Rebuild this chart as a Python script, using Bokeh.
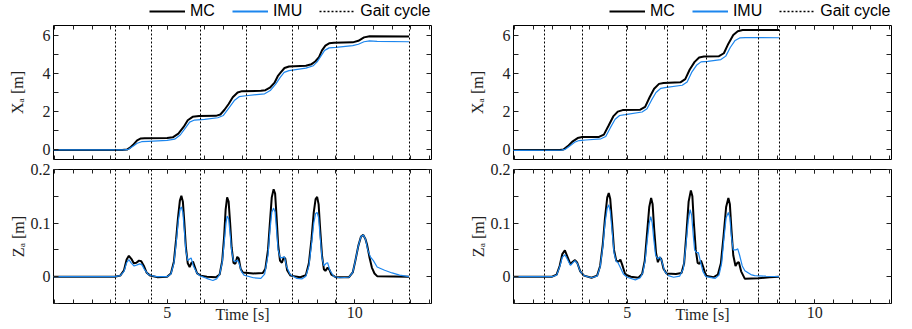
import numpy as np
from bokeh.plotting import figure
from bokeh.layouts import column, row
from bokeh.models import (Range1d, LinearAxis, FixedTicker, Legend, LegendItem,
                          CustomJSTickFormatter)
from bokeh.embed import file_html
from bokeh.resources import INLINE

# ---------------- data ----------------
X_START, X_END = 1.97, 12.05
X_TICKS = [5, 10]
X_MINOR = [2.0 + 0.5 * i for i in range(21)]

XA_RANGE = (-0.5, 6.5)
XA_TICKS = [0, 2, 4, 6]
XA_MINOR = [1, 3, 5]
XA_LABELS = ["0", "2", "4", "6"]

ZA_RANGE = (-0.05, 0.2)
ZA_TICKS = [0, 0.1, 0.2]
ZA_MINOR = [-0.05, 0.05, 0.15]
ZA_LABELS = ["0", "0.1", "0.2"]

SERIES_NAMES = ["MC", "IMU", "Gait cycle"]

GAIT_LEFT = [3.63, 4.57, 5.89, 7.11, 8.33, 9.51, 11.45]
GAIT_RIGHT = [2.79, 3.82, 4.99, 6.08, 7.11, 8.51, 9.05]

# top-left, X_a [m]
TL_MC = [(1.9, 0.0), (3.8, 0.0), (3.93, 0.02), (4.03, 0.15), (4.11, 0.3), (4.2, 0.5),
         (4.3, 0.6), (4.4, 0.61), (5.0, 0.62), (5.15, 0.66), (5.3, 0.85), (5.44, 1.2),
         (5.55, 1.55), (5.68, 1.73), (5.85, 1.77), (6.3, 1.78), (6.42, 1.85), (6.53, 2.1),
         (6.64, 2.4), (6.75, 2.75), (6.88, 3.0), (7.0, 3.07), (7.5, 3.09), (7.62, 3.12),
         (7.74, 3.25), (7.86, 3.5), (7.95, 3.85), (8.03, 4.05), (8.13, 4.28), (8.25, 4.36),
         (8.7, 4.4), (8.85, 4.48), (8.95, 4.62), (9.05, 4.85), (9.13, 5.2), (9.22, 5.45),
         (9.32, 5.57), (9.45, 5.6), (9.95, 5.62), (10.1, 5.7), (10.25, 5.88), (10.4, 5.94),
         (11.45, 5.93)]
TL_IMU = [(1.9, 0.0), (3.85, 0.0), (3.97, 0.03), (4.1, 0.2), (4.2, 0.35), (4.32, 0.43),
          (4.5, 0.45), (5.0, 0.5), (5.2, 0.56), (5.35, 0.78), (5.49, 1.15), (5.6, 1.45),
          (5.73, 1.56), (6.0, 1.6), (6.35, 1.68), (6.5, 1.8), (6.65, 2.2), (6.8, 2.6),
          (6.92, 2.78), (7.1, 2.83), (7.6, 2.93), (7.75, 3.1), (7.9, 3.45), (8.02, 3.8),
          (8.12, 4.05), (8.25, 4.14), (8.7, 4.27), (8.9, 4.4), (9.0, 4.6), (9.1, 4.9),
          (9.2, 5.2), (9.32, 5.33), (9.5, 5.36), (9.95, 5.45), (10.1, 5.52), (10.25, 5.65),
          (10.4, 5.7), (10.6, 5.67), (11.45, 5.65)]

# top-right, X_a [m]
TR_MC = [(1.9, 0.0), (3.2, 0.0), (3.3, 0.02), (3.42, 0.2), (3.55, 0.45), (3.68, 0.62),
         (3.8, 0.67), (4.25, 0.68), (4.38, 0.8), (4.5, 1.25), (4.63, 1.75), (4.75, 2.0),
         (4.88, 2.08), (5.35, 2.1), (5.48, 2.25), (5.6, 2.75), (5.72, 3.2), (5.85, 3.45),
         (5.97, 3.5), (6.42, 3.53), (6.55, 3.7), (6.67, 4.2), (6.8, 4.6), (6.92, 4.83),
         (7.05, 4.88), (7.45, 4.9), (7.58, 5.05), (7.7, 5.55), (7.83, 6.0), (7.95, 6.2),
         (8.08, 6.26), (9.05, 6.27)]
TR_IMU = [(1.9, -0.02), (3.25, -0.01), (3.35, 0.03), (3.47, 0.2), (3.6, 0.4), (3.72, 0.49),
          (3.9, 0.52), (4.3, 0.58), (4.43, 0.7), (4.55, 1.15), (4.68, 1.6), (4.8, 1.8),
          (4.95, 1.84), (5.4, 1.98), (5.53, 2.15), (5.65, 2.6), (5.77, 3.0), (5.9, 3.22),
          (6.05, 3.27), (6.47, 3.38), (6.6, 3.55), (6.72, 4.05), (6.85, 4.42), (6.97, 4.6),
          (7.15, 4.63), (7.5, 4.72), (7.63, 4.9), (7.75, 5.35), (7.88, 5.72), (8.0, 5.85),
          (8.15, 5.87), (9.05, 5.86)]

# bottom-left, Z_a [m]
BL_MC = [(1.9, 0.0), (3.6, 0.0), (3.75, 0.002), (3.85, 0.012), (3.92, 0.032), (3.98, 0.039),
         (4.05, 0.033), (4.11, 0.025), (4.18, 0.026), (4.25, 0.03), (4.31, 0.029),
         (4.38, 0.02), (4.45, 0.008), (4.55, 0.002), (4.75, -0.001), (5.0, 0.0),
         (5.1, 0.006), (5.18, 0.028), (5.24, 0.07), (5.29, 0.11), (5.34, 0.142),
         (5.38, 0.151), (5.42, 0.14), (5.46, 0.1), (5.5, 0.055), (5.55, 0.025), (5.6, 0.018),
         (5.65, 0.026), (5.69, 0.028), (5.73, 0.02), (5.8, 0.006), (5.9, 0.002), (6.06, 0.0),
         (6.3, -0.001), (6.4, 0.004), (6.47, 0.03), (6.52, 0.075), (6.56, 0.125), (6.6, 0.148),
         (6.64, 0.14), (6.68, 0.1), (6.72, 0.055), (6.77, 0.026), (6.82, 0.024), (6.87, 0.037),
         (6.91, 0.034), (6.96, 0.015), (7.02, 0.008), (7.3, 0.006), (7.55, 0.007),
         (7.62, 0.015), (7.69, 0.05), (7.74, 0.1), (7.79, 0.148), (7.84, 0.163), (7.88, 0.155),
         (7.92, 0.11), (7.96, 0.06), (8.01, 0.03), (8.06, 0.026), (8.11, 0.036), (8.15, 0.034),
         (8.2, 0.012), (8.29, 0.002), (8.55, -0.001), (8.7, 0.003), (8.78, 0.025),
         (8.85, 0.07), (8.91, 0.12), (8.96, 0.145), (9.0, 0.149), (9.04, 0.135), (9.08, 0.09),
         (9.13, 0.04), (9.18, 0.014), (9.22, 0.011), (9.28, 0.017), (9.32, 0.014),
         (9.38, 0.004), (9.5, -0.001), (9.85, -0.001), (9.95, 0.008), (10.02, 0.03),
         (10.1, 0.058), (10.17, 0.075), (10.23, 0.078), (10.29, 0.07), (10.33, 0.06),
         (10.4, 0.035), (10.46, 0.017), (10.53, 0.006), (10.6, 0.001), (11.45, 0.0)]
BL_IMU = [(1.9, 0.0), (3.6, 0.0), (3.75, 0.002), (3.85, 0.01), (3.92, 0.026), (3.98, 0.032),
          (4.05, 0.025), (4.12, 0.02), (4.2, 0.022), (4.27, 0.024), (4.33, 0.022),
          (4.4, 0.013), (4.5, 0.004), (4.7, 0.0), (5.0, 0.0), (5.1, 0.005), (5.18, 0.025),
          (5.24, 0.062), (5.3, 0.105), (5.35, 0.127), (5.38, 0.13), (5.42, 0.12),
          (5.46, 0.085), (5.5, 0.048), (5.55, 0.03), (5.6, 0.033), (5.64, 0.035), (5.7, 0.02),
          (5.8, 0.006), (5.9, 0.001), (6.05, -0.003), (6.22, -0.007), (6.32, -0.004),
          (6.4, 0.004), (6.47, 0.027), (6.53, 0.07), (6.57, 0.1), (6.6, 0.113), (6.64, 0.108),
          (6.68, 0.08), (6.72, 0.048), (6.77, 0.03), (6.82, 0.028), (6.87, 0.031),
          (6.92, 0.025), (6.98, 0.01), (7.05, 0.003), (7.3, -0.002), (7.5, -0.003),
          (7.6, 0.005), (7.69, 0.04), (7.74, 0.085), (7.79, 0.12), (7.84, 0.128), (7.88, 0.12),
          (7.92, 0.085), (7.96, 0.05), (8.02, 0.035), (8.08, 0.036), (8.13, 0.037),
          (8.18, 0.02), (8.28, 0.004), (8.45, -0.003), (8.6, -0.004), (8.7, 0.001),
          (8.78, 0.02), (8.85, 0.06), (8.91, 0.1), (8.96, 0.118), (9.0, 0.12), (9.04, 0.11),
          (9.08, 0.075), (9.13, 0.035), (9.18, 0.02), (9.24, 0.025), (9.28, 0.026),
          (9.34, 0.012), (9.45, 0.0), (9.6, -0.002), (9.85, -0.001), (9.95, 0.008),
          (10.02, 0.03), (10.1, 0.058), (10.17, 0.075), (10.23, 0.078), (10.29, 0.07),
          (10.35, 0.05), (10.42, 0.037), (10.5, 0.03), (10.6, 0.018), (10.8, 0.012),
          (11.0, 0.007), (11.2, 0.003), (11.45, 0.0)]

# bottom-right, Z_a [m]
BR_MC = [(1.9, 0.0), (3.0, 0.0), (3.12, 0.004), (3.2, 0.02), (3.27, 0.042), (3.34, 0.049),
         (3.41, 0.037), (3.49, 0.023), (3.55, 0.028), (3.61, 0.031), (3.67, 0.026),
         (3.75, 0.01), (3.85, 0.002), (4.05, -0.002), (4.2, 0.002), (4.28, 0.02), (4.35, 0.06),
         (4.41, 0.11), (4.47, 0.148), (4.51, 0.156), (4.55, 0.145), (4.6, 0.1), (4.65, 0.05),
         (4.71, 0.03), (4.77, 0.028), (4.82, 0.032), (4.87, 0.022), (4.95, 0.004), (5.1, 0.0),
         (5.3, -0.002), (5.4, 0.005), (5.47, 0.03), (5.53, 0.08), (5.59, 0.13), (5.64, 0.147),
         (5.68, 0.135), (5.72, 0.09), (5.77, 0.045), (5.82, 0.027), (5.87, 0.036),
         (5.91, 0.033), (5.97, 0.015), (6.05, 0.006), (6.3, 0.005), (6.45, 0.007),
         (6.52, 0.025), (6.58, 0.08), (6.64, 0.14), (6.7, 0.161), (6.74, 0.15), (6.78, 0.1),
         (6.83, 0.05), (6.88, 0.026), (6.93, 0.024), (6.97, 0.03), (7.02, 0.02), (7.1, 0.002),
         (7.3, -0.001), (7.42, 0.004), (7.5, 0.025), (7.57, 0.075), (7.64, 0.13), (7.7, 0.147),
         (7.74, 0.135), (7.78, 0.09), (7.83, 0.04), (7.89, 0.02), (7.94, 0.026),
         (7.98, 0.027), (8.04, 0.01), (8.14, -0.004), (8.5, -0.003), (8.8, -0.001),
         (9.05, 0.0)]
BR_IMU = [(1.9, 0.0), (3.0, 0.0), (3.12, 0.003), (3.2, 0.018), (3.27, 0.036), (3.34, 0.041),
          (3.41, 0.032), (3.49, 0.021), (3.55, 0.026), (3.61, 0.03), (3.67, 0.025),
          (3.75, 0.01), (3.85, 0.002), (4.05, -0.002), (4.2, 0.001), (4.28, 0.018),
          (4.35, 0.055), (4.41, 0.1), (4.47, 0.128), (4.51, 0.134), (4.55, 0.122),
          (4.6, 0.085), (4.65, 0.045), (4.71, 0.028), (4.75, 0.027), (4.8, 0.02), (4.9, 0.005),
          (5.0, -0.001), (5.22, -0.006), (5.35, -0.002), (5.42, 0.008), (5.48, 0.03),
          (5.54, 0.07), (5.59, 0.1), (5.63, 0.112), (5.67, 0.1), (5.71, 0.07), (5.76, 0.04),
          (5.82, 0.033), (5.87, 0.037), (5.92, 0.03), (6.0, 0.01), (6.1, 0.002),
          (6.24, -0.001), (6.4, 0.001), (6.5, 0.015), (6.57, 0.06), (6.63, 0.105),
          (6.68, 0.125), (6.72, 0.115), (6.76, 0.08), (6.8, 0.05), (6.85, 0.045), (6.9, 0.045),
          (6.95, 0.03), (7.02, 0.01), (7.1, 0.0), (7.35, -0.003), (7.45, 0.003), (7.52, 0.025),
          (7.58, 0.07), (7.64, 0.11), (7.7, 0.12), (7.74, 0.11), (7.78, 0.075), (7.83, 0.05),
          (7.9, 0.05), (7.95, 0.052), (8.0, 0.04), (8.07, 0.02), (8.14, 0.011), (8.3, 0.004),
          (8.4, 0.002), (8.7, 0.001), (9.05, 0.0)]

BLUE = "#1c86ee"
INK = "#222222"
SERIF = "'Liberation Serif'"
SANS = "'Liberation Sans'"


def style_axis(ax, ticks, minor, show_labels, tick_len, labels=None):
    ax.ticker = FixedTicker(ticks=ticks, minor_ticks=minor)
    ax.axis_line_color = None
    ax.major_tick_in = tick_len
    ax.major_tick_out = 0
    ax.minor_tick_in = tick_len
    ax.minor_tick_out = 0
    ax.major_tick_line_color = INK
    ax.minor_tick_line_color = INK
    if show_labels:
        ax.major_label_text_font = SERIF
        ax.major_label_text_font_size = "16px"
        ax.major_label_text_color = INK
        if labels is not None:
            ax.major_label_overrides = dict(zip(ticks, labels))
    else:
        ax.formatter = CustomJSTickFormatter(code="return ''")
        ax.major_label_text_font_size = "0px"
        ax.major_label_standoff = 0


def make_panel(mc, imu, gait, yr, yt, ym, ylabels, ylabel, lab_standoff,
               width, bl, br, height, bt, bb, top):
    p = figure(width=width, height=height, x_range=Range1d(X_START, X_END),
               y_range=Range1d(*yr), output_backend="svg", toolbar_location=None,
               min_border_left=bl, min_border_right=br, min_border_top=bt,
               min_border_bottom=bb)
    p.grid.visible = False
    p.outline_line_color = "black"
    p.outline_line_width = 1
    p.add_layout(LinearAxis(), "above")
    p.add_layout(LinearAxis(), "right")

    style_axis(p.below[0], X_TICKS, X_MINOR, not top, 4)
    style_axis(p.above[0], X_TICKS, X_MINOR, False, 4)
    style_axis(p.left[0], yt, ym, True, 5, labels=ylabels)
    style_axis(p.right[0], yt, ym, False, 5)
    p.left[0].major_label_standoff = 3

    lax = p.left[0]
    lax.axis_label = ylabel
    lax.axis_label_text_font = SERIF
    lax.axis_label_text_font_style = "normal"
    lax.axis_label_text_font_size = "16px"
    lax.axis_label_text_color = INK
    lax.axis_label_standoff = lab_standoff

    if not top:
        bax = p.below[0]
        bax.major_label_standoff = 3
        bax.axis_label = "Time [s]"
        bax.axis_label_text_font = SERIF
        bax.axis_label_text_font_style = "normal"
        bax.axis_label_text_font_size = "16px"
        bax.axis_label_text_color = INK
        bax.axis_label_standoff = -15

    t_mc, v_mc = zip(*mc)
    t_imu, v_imu = zip(*imu)
    p.line(list(t_mc), list(v_mc), line_color="black", line_width=2)
    p.line(list(t_imu), list(v_imu), line_color=BLUE, line_width=1.2)
    p.vspan(x=gait, line_color="black", line_width=1, line_dash="2 2")
    return p


def legend_strip(width, bl, br, height):
    p = figure(width=width, height=height, x_range=Range1d(0, 1), y_range=Range1d(0, 1),
               output_backend="svg", toolbar_location=None,
               x_axis_location=None, y_axis_location=None,
               min_border_left=bl, min_border_right=br, min_border_top=0,
               min_border_bottom=0)
    p.grid.visible = False
    p.outline_line_color = None
    # legend proxies (no visible marks)
    r1 = p.line(x=[np.nan], y=[np.nan], line_color="black", line_width=2)
    r2 = p.line(x=[np.nan], y=[np.nan], line_color=BLUE, line_width=2)
    r3 = p.line(x=[np.nan], y=[np.nan], line_color="black", line_width=1.3, line_dash="2 2")
    leg = Legend(items=[LegendItem(label=n, renderers=[r]) for n, r in
                        zip(SERIES_NAMES, [r1, r2, r3])],
                 location=(96, 2), orientation="horizontal",
                 glyph_width=36, glyph_height=14, label_standoff=5, spacing=17,
                 padding=0, margin=0, border_line_alpha=0, background_fill_alpha=0,
                 label_text_font=SANS, label_text_font_size="16px",
                 label_text_color="black", label_height=14)
    p.add_layout(leg, "center")
    return p


LEG_H = 22
lg_l = legend_strip(456, 53, 25, LEG_H)
lg_r = legend_strip(456, 57, 21, LEG_H)
tl = make_panel(TL_MC, TL_IMU, GAIT_LEFT, XA_RANGE, XA_TICKS, XA_MINOR, XA_LABELS,
                "Xₐ [m]", 14, 456, 53, 25, 138, 3, 1, True)
tr = make_panel(TR_MC, TR_IMU, GAIT_RIGHT, XA_RANGE, XA_TICKS, XA_MINOR, XA_LABELS,
                "Xₐ [m]", 14, 456, 57, 21, 138, 3, 1, True)
bl = make_panel(BL_MC, BL_IMU, GAIT_LEFT, ZA_RANGE, ZA_TICKS, ZA_MINOR, ZA_LABELS,
                "Zₐ [m]", 1, 456, 53, 25, 168, 9, 25, False)
br = make_panel(BR_MC, BR_IMU, GAIT_RIGHT, ZA_RANGE, ZA_TICKS, ZA_MINOR, ZA_LABELS,
                "Zₐ [m]", 1, 456, 57, 21, 168, 9, 25, False)

layout = column(row(lg_l, lg_r), row(tl, tr), row(bl, br))
open("out.html", "w").write(file_html(layout, INLINE))
